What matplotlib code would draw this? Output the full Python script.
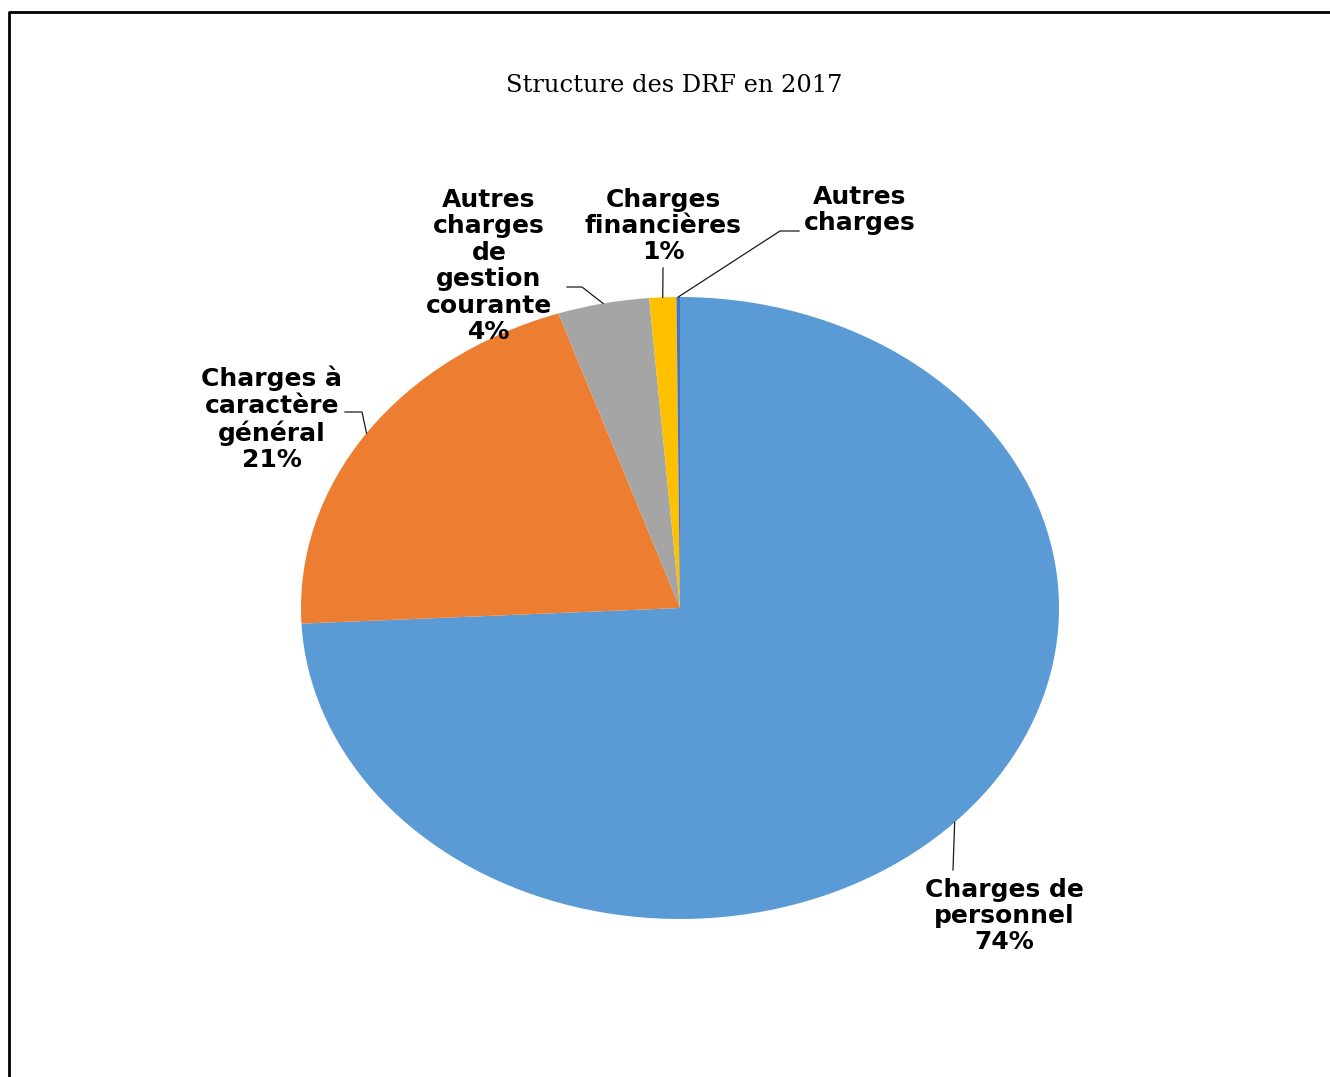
import numpy as np
import matplotlib
matplotlib.use("Agg")
import matplotlib.pyplot as plt

# budget structure (share of real operating expenses)
categories = ["Charges de\npersonnel", "Charges à\ncaractère\ngénéral",
              "Autres\ncharges\nde\ngestion\ncourante", "Charges\nfinancières",
              "Autres\ncharges"]
values = [74.2, 20.6, 3.9, 1.15, 0.15]
show_pct = [True, True, True, True, False]
colors = ["#5B9BD5", "#ED7D31", "#A5A5A5", "#FFC000", "#4472C4"]

W, H = 1330, 1077
CX, CY, RX, RY = 680, 608, 379, 311


def pix(x, y):
    # pixel position -> data coords of the stretched pie
    return (x - CX) / RX, (CY - y) / RY


fig = plt.figure(figsize=(W / 100, H / 100), dpi=100)
ax = fig.add_axes([0, 0, 1, 1])
wedges, _ = ax.pie(values, colors=colors, startangle=90, counterclock=False,
                   radius=1, wedgeprops=dict(linewidth=0))
ax.set_aspect("auto")
ax.set_xlim((0 - CX) / RX, (W - CX) / RX)
ax.set_ylim((CY - H) / RY, CY / RY)
ax.axis("off")

# label text centres and leader knees (pixels)
label_pos = [(1004, 916), (272, 419), (489, 266), (663, 226), (860, 210)]
knees = [[(953, 870)], [(362, 412), (345, 412)], [(582, 287), (567, 287)],
         [(663, 268)], [(780, 231), (799, 231)]]

lab_font = dict(family="DejaVu Sans", weight="bold", size=18, color="black")
for w, name, v, sp, lp, kn in zip(wedges, categories, values, show_pct, label_pos, knees):
    mid = np.deg2rad((w.theta1 + w.theta2) / 2)
    pts = [(np.cos(mid), np.sin(mid))] + [pix(*k) for k in kn]
    xs, ys = zip(*pts)
    ax.plot(xs, ys, color="#1a1a1a", lw=0.9, clip_on=False)
    txt = name + ("\n%d%%" % round(v) if sp else "")
    ax.text(*pix(*lp), txt, ha="center", va="center", linespacing=1.13, **lab_font)

ax.text(*pix(674, 85), "Structure des DRF en 2017", ha="center", va="center",
        family="DejaVu Serif", size=17.4)

# page frame
ax.plot(*zip(pix(9, H + 5), pix(9, 12), pix(W + 5, 12)), color="black", lw=2, clip_on=False)

fig.savefig("out.png", dpi=100)
